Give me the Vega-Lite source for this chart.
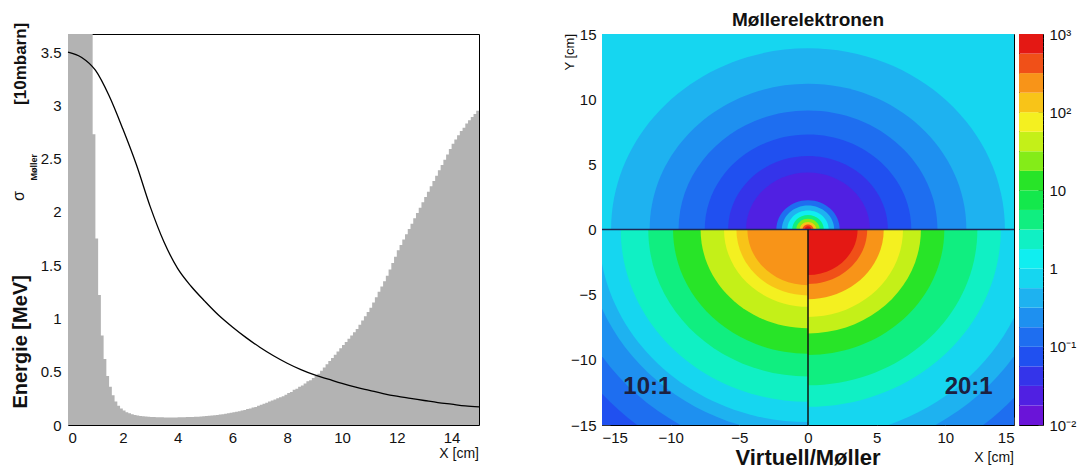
{
  "$schema": "https://vega.github.io/schema/vega-lite/v6.json",
  "background": "white",
  "padding": {"left": 10, "top": 10, "right": 2, "bottom": 2},
  "config": {
    "view": {"stroke": "black", "strokeWidth": 1},
    "font": "Liberation Sans",
    "axis": {"labelFont": "Liberation Sans", "labelFontSize": 15, "labelColor": "#111", "grid": false, "domain": false, "ticks": false, "title": null}
  },
  "datasets": {
    "hist": [
      {"x":0.0,"e":4},{"x":0.1,"e":4},{"x":0.2,"e":4},{"x":0.3,"e":4},{"x":0.4,"e":4},{"x":0.5,"e":4},{"x":0.6,"e":4},{"x":0.7,"e":4},{"x":0.8,"e":4},
      {"x":0.9,"e":2.73},{"x":1.0,"e":1.75},{"x":1.1,"e":1.22},{"x":1.2,"e":0.84},{"x":1.3,"e":0.62},{"x":1.4,"e":0.46},{"x":1.5,"e":0.36},{"x":1.6,"e":0.28},{"x":1.7,"e":0.22},{"x":1.8,"e":0.18},{"x":1.9,"e":0.155},
      {"x":2.0,"e":0.135},{"x":2.1,"e":0.12},{"x":2.2,"e":0.11},{"x":2.3,"e":0.1},{"x":2.4,"e":0.095},{"x":2.5,"e":0.09},{"x":2.6,"e":0.085},{"x":2.7,"e":0.082},{"x":2.8,"e":0.079},{"x":2.9,"e":0.077},
      {"x":3.0,"e":0.075},{"x":3.1,"e":0.074},{"x":3.2,"e":0.073},{"x":3.3,"e":0.072},{"x":3.4,"e":0.072},{"x":3.5,"e":0.071},{"x":3.6,"e":0.071},{"x":3.7,"e":0.071},{"x":3.8,"e":0.071},{"x":3.9,"e":0.071},
      {"x":4.0,"e":0.072},{"x":4.1,"e":0.072},{"x":4.2,"e":0.073},{"x":4.3,"e":0.074},{"x":4.4,"e":0.075},{"x":4.5,"e":0.076},{"x":4.6,"e":0.077},{"x":4.7,"e":0.078},{"x":4.8,"e":0.08},{"x":4.9,"e":0.082},
      {"x":5.0,"e":0.084},{"x":5.1,"e":0.086},{"x":5.2,"e":0.089},{"x":5.3,"e":0.092},{"x":5.4,"e":0.095},{"x":5.5,"e":0.098},{"x":5.6,"e":0.102},{"x":5.7,"e":0.106},{"x":5.8,"e":0.11},{"x":5.9,"e":0.115},
      {"x":6.0,"e":0.12},{"x":6.1,"e":0.125},{"x":6.2,"e":0.13},{"x":6.3,"e":0.135},{"x":6.4,"e":0.14},{"x":6.5,"e":0.15},{"x":6.6,"e":0.155},{"x":6.7,"e":0.165},{"x":6.8,"e":0.17},{"x":6.9,"e":0.18},
      {"x":7.0,"e":0.19},{"x":7.1,"e":0.2},{"x":7.2,"e":0.21},{"x":7.3,"e":0.22},{"x":7.4,"e":0.23},{"x":7.5,"e":0.24},{"x":7.6,"e":0.25},{"x":7.7,"e":0.26},{"x":7.8,"e":0.27},{"x":7.9,"e":0.285},
      {"x":8.0,"e":0.3},{"x":8.1,"e":0.31},{"x":8.2,"e":0.33},{"x":8.3,"e":0.34},{"x":8.4,"e":0.36},{"x":8.5,"e":0.37},{"x":8.6,"e":0.39},{"x":8.7,"e":0.41},{"x":8.8,"e":0.42},{"x":8.9,"e":0.44},
      {"x":9.0,"e":0.46},{"x":9.1,"e":0.48},{"x":9.2,"e":0.51},{"x":9.3,"e":0.54},{"x":9.4,"e":0.57},{"x":9.5,"e":0.6},{"x":9.6,"e":0.63},{"x":9.7,"e":0.66},{"x":9.8,"e":0.69},{"x":9.9,"e":0.72},
      {"x":10.0,"e":0.75},{"x":10.1,"e":0.78},{"x":10.2,"e":0.81},{"x":10.3,"e":0.84},{"x":10.4,"e":0.87},{"x":10.5,"e":0.9},{"x":10.6,"e":0.94},{"x":10.7,"e":0.98},{"x":10.8,"e":1.02},{"x":10.9,"e":1.06},
      {"x":11.0,"e":1.1},{"x":11.1,"e":1.15},{"x":11.2,"e":1.2},{"x":11.3,"e":1.25},{"x":11.4,"e":1.3},{"x":11.5,"e":1.35},{"x":11.6,"e":1.4},{"x":11.7,"e":1.46},{"x":11.8,"e":1.52},{"x":11.9,"e":1.58},
      {"x":12.0,"e":1.64},{"x":12.1,"e":1.69},{"x":12.2,"e":1.74},{"x":12.3,"e":1.79},{"x":12.4,"e":1.84},{"x":12.5,"e":1.89},{"x":12.6,"e":1.94},{"x":12.7,"e":1.99},{"x":12.8,"e":2.04},{"x":12.9,"e":2.09},
      {"x":13.0,"e":2.14},{"x":13.1,"e":2.19},{"x":13.2,"e":2.24},{"x":13.3,"e":2.29},{"x":13.4,"e":2.34},{"x":13.5,"e":2.39},{"x":13.6,"e":2.44},{"x":13.7,"e":2.49},{"x":13.8,"e":2.54},{"x":13.9,"e":2.59},
      {"x":14.0,"e":2.64},{"x":14.1,"e":2.68},{"x":14.2,"e":2.72},{"x":14.3,"e":2.76},{"x":14.4,"e":2.79},{"x":14.5,"e":2.83},{"x":14.6,"e":2.86},{"x":14.7,"e":2.89},{"x":14.8,"e":2.92},{"x":14.9,"e":2.95},{"x":15.0,"e":2.95}
    ],
    "curve": [
      {"x":0,"s":3.5},{"x":0.5,"s":3.45},{"x":1,"s":3.33},{"x":1.5,"s":3.09},{"x":2,"s":2.78},{"x":2.5,"s":2.44},{"x":3,"s":2.05},{"x":3.5,"s":1.72},{"x":4,"s":1.47},{"x":4.5,"s":1.3},{"x":5,"s":1.16},{"x":5.5,"s":1.03},{"x":6,"s":0.92},{"x":6.5,"s":0.82},{"x":7,"s":0.73},{"x":7.5,"s":0.65},{"x":8,"s":0.58},{"x":8.5,"s":0.52},{"x":9,"s":0.47},{"x":9.5,"s":0.43},{"x":10,"s":0.39},{"x":10.5,"s":0.355},{"x":11,"s":0.325},{"x":11.5,"s":0.295},{"x":12,"s":0.27},{"x":12.5,"s":0.25},{"x":13,"s":0.23},{"x":13.5,"s":0.21},{"x":14,"s":0.195},{"x":14.5,"s":0.18},{"x":15,"s":0.17}
    ],
    "rings": [
      {"part":"U","r":24,"v":0.75},{"part":"U","r":14.3,"v":0.422},{"part":"U","r":11.5,"v":0.237},{"part":"U","r":9.4,"v":0.133},{"part":"U","r":7.5,"v":0.075},{"part":"U","r":5.8,"v":0.0422},{"part":"U","r":4.5,"v":0.0237},{"part":"U","r":2.3,"v":0.133},{"part":"U","r":1.9,"v":0.422},{"part":"U","r":1.5,"v":1.33},{"part":"U","r":1.15,"v":4.22},{"part":"U","r":0.85,"v":23.7},{"part":"U","r":0.6,"v":133},{"part":"U","r":0.4,"v":422},{"part":"U","r":0.25,"v":750},
      {"part":"L","r":24,"v":0.075},{"part":"L","r":19.8,"v":0.133},{"part":"L","r":18,"v":0.237},{"part":"L","r":16.2,"v":0.422},{"part":"L","r":15.2,"v":0.75},{"part":"L","r":13.6,"v":2.37},{"part":"L","r":11.6,"v":4.22},{"part":"L","r":9.8,"v":13.3},{"part":"L","r":7.8,"v":42.2},{"part":"L","r":6.1,"v":75},{"part":"L","r":5.2,"v":133},{"part":"L","r":4.4,"v":237},
      {"part":"R","r":24,"v":0.133},{"part":"R","r":20,"v":0.237},{"part":"R","r":18,"v":0.422},{"part":"R","r":16.5,"v":0.75},{"part":"R","r":14,"v":2.37},{"part":"R","r":12.3,"v":4.22},{"part":"R","r":9.9,"v":13.3},{"part":"R","r":8.2,"v":42.2},{"part":"R","r":6.9,"v":75},{"part":"R","r":5.5,"v":237},{"part":"R","r":4.3,"v":422},{"part":"R","r":3.6,"v":750}
    ],
    "bands": [
      {"lo":0.01,"hi":0.01778,"v":0.0133},{"lo":0.01778,"hi":0.03162,"v":0.0237},{"lo":0.03162,"hi":0.05623,"v":0.0422},{"lo":0.05623,"hi":0.1,"v":0.075},
      {"lo":0.1,"hi":0.1778,"v":0.133},{"lo":0.1778,"hi":0.3162,"v":0.237},{"lo":0.3162,"hi":0.5623,"v":0.422},{"lo":0.5623,"hi":1,"v":0.75},
      {"lo":1,"hi":1.778,"v":1.33},{"lo":1.778,"hi":3.162,"v":2.37},{"lo":3.162,"hi":5.623,"v":4.22},{"lo":5.623,"hi":10,"v":7.5},
      {"lo":10,"hi":17.78,"v":13.3},{"lo":17.78,"hi":31.62,"v":23.7},{"lo":31.62,"hi":56.23,"v":42.2},{"lo":56.23,"hi":100,"v":75},
      {"lo":100,"hi":177.8,"v":133},{"lo":177.8,"hi":316.2,"v":237},{"lo":316.2,"hi":562.3,"v":422},{"lo":562.3,"hi":1000,"v":750}
    ]
  },
  "bounds": "flush",
  "spacing": 123,
  "hconcat": [
    {
      "width": 411,
      "height": 391,
      "layer": [
        {
          "data": {"name": "hist"},
          "mark": {"type": "area", "interpolate": "step-after", "color": "#b3b3b3", "clip": true},
          "encoding": {
            "x": {"field": "x", "type": "quantitative", "scale": {"domain": [0, 15], "nice": false, "zero": false},
                  "axis": {"values": [0,2,4,6,8,10,12,14], "labelExpr": "format(datum.value, '~g')", "labelPadding": 5}},
            "y": {"field": "e", "type": "quantitative", "scale": {"domain": [0, 3.67], "nice": false},
                  "axis": {"values": [0,0.5,1,1.5,2,2.5,3,3.5], "labelExpr": "format(datum.value, '~g')", "labelPadding": 7}}
          }
        },
        {
          "data": {"name": "curve"},
          "mark": {"type": "line", "color": "black", "strokeWidth": 1.3, "interpolate": "monotone"},
          "encoding": {
            "x": {"field": "x", "type": "quantitative"},
            "y": {"field": "s", "type": "quantitative"}
          }
        },
        {
          "data": {"values": [{}]},
          "mark": {"type": "text", "angle": 270, "fontSize": 20, "fontWeight": "bold", "color": "#111"},
          "encoding": {"x": {"datum": -1.72, "type": "quantitative"}, "y": {"datum": 0.78, "type": "quantitative"}, "text": {"value": "Energie [MeV]"}}
        },
        {
          "data": {"values": [{}]},
          "mark": {"type": "text", "angle": 270, "fontSize": 17, "fontWeight": "bold", "color": "#111"},
          "encoding": {"x": {"datum": -1.72, "type": "quantitative"}, "y": {"datum": 3.39, "type": "quantitative"}, "text": {"value": "[10mbarn]"}}
        },
        {
          "data": {"values": [{}]},
          "mark": {"type": "text", "angle": 270, "fontSize": 16, "color": "#111"},
          "encoding": {"x": {"datum": -1.8, "type": "quantitative"}, "y": {"datum": 2.15, "type": "quantitative"}, "text": {"value": "σ"}}
        },
        {
          "data": {"values": [{}]},
          "mark": {"type": "text", "angle": 270, "fontSize": 9, "fontWeight": "bold", "color": "#111"},
          "encoding": {"x": {"datum": -1.25, "type": "quantitative"}, "y": {"datum": 2.42, "type": "quantitative"}, "text": {"value": "Møller"}}
        },
        {
          "data": {"values": [{}]},
          "mark": {"type": "text", "fontSize": 14, "color": "#111", "align": "right"},
          "encoding": {"x": {"datum": 15, "type": "quantitative"}, "y": {"datum": -0.27, "type": "quantitative"}, "text": {"value": "X [cm]"}}
        }
      ]
    },
    {
      "bounds": "flush",
      "spacing": 5,
      "hconcat": [
        {
          "width": 412,
          "height": 391,
          "layer": [
            {
              "data": {"name": "rings"},
              "transform": [{"filter": "datum.part == 'U'"}],
              "mark": {"type": "point", "shape": "M-1,0A1,0.92,0,0,1,1,0Z", "filled": true, "opacity": 1, "strokeWidth": 0, "clip": true},
              "encoding": {
                "x": {"datum": 0, "type": "quantitative", "scale": {"domain": [-15, 15], "nice": false, "zero": false},
                      "axis": {"values": [-15,-10,-5,0,5,10,15], "labelPadding": 13, "ticks": true, "tickSize": -8, "tickColor": "#333"}},
                "y": {"datum": 0, "type": "quantitative", "scale": {"domain": [-15, 15], "nice": false, "zero": false},
                      "axis": {"values": [-15,-10,-5,0,5,10,15], "labelPadding": 14, "ticks": true, "tickSize": -8, "tickColor": "#333"}},
                "size": {"field": "r", "type": "quantitative", "legend": null, "scale": {"type": "pow", "exponent": 2, "domain": [0, 15], "range": [0, 170652], "zero": true}},
                "color": {"field": "v", "type": "quantitative", "legend": null,
                  "scale": {"type": "threshold", "domain": [0.01778,0.03162,0.05623,0.1,0.1778,0.3162,0.5623,1,1.778,3.162,5.623,10,17.78,31.62,56.23,100,177.8,316.2,562.3],
                    "range": ["#6a14d8","#5020e2","#3434ea","#2050f0","#1e6ef0","#1e90f0","#1eb2f0","#16d6f0","#10eef0","#10f0c4","#10ee80","#14e84c","#28e428","#84ec18","#c4f018","#f4f020","#f8c418","#f89418","#f05018","#e41814"]}}
              }
            },
            {
              "data": {"name": "rings"},
              "transform": [{"filter": "datum.part == 'R'"}],
              "mark": {"type": "point", "shape": "M0,0L1,0A1,0.92,0,0,1,0,0.92Z", "filled": true, "opacity": 1, "strokeWidth": 0, "clip": true},
              "encoding": {
                "x": {"datum": 0, "type": "quantitative"},
                "y": {"datum": 0, "type": "quantitative"},
                "size": {"field": "r", "type": "quantitative", "legend": null, "scale": {"type": "pow", "exponent": 2, "domain": [0, 15], "range": [0, 170652], "zero": true}},
                "color": {"field": "v", "type": "quantitative", "legend": null,
                  "scale": {"type": "threshold", "domain": [0.01778,0.03162,0.05623,0.1,0.1778,0.3162,0.5623,1,1.778,3.162,5.623,10,17.78,31.62,56.23,100,177.8,316.2,562.3],
                    "range": ["#6a14d8","#5020e2","#3434ea","#2050f0","#1e6ef0","#1e90f0","#1eb2f0","#16d6f0","#10eef0","#10f0c4","#10ee80","#14e84c","#28e428","#84ec18","#c4f018","#f4f020","#f8c418","#f89418","#f05018","#e41814"]}}
              }
            },
            {
              "data": {"name": "rings"},
              "transform": [{"filter": "datum.part == 'L'"}],
              "mark": {"type": "point", "shape": "M0,0L0,0.92A1,0.92,0,0,1,-1,0Z", "filled": true, "opacity": 1, "strokeWidth": 0, "clip": true},
              "encoding": {
                "x": {"datum": 0, "type": "quantitative"},
                "y": {"datum": 0, "type": "quantitative"},
                "size": {"field": "r", "type": "quantitative", "legend": null, "scale": {"type": "pow", "exponent": 2, "domain": [0, 15], "range": [0, 170652], "zero": true}},
                "color": {"field": "v", "type": "quantitative", "legend": null,
                  "scale": {"type": "threshold", "domain": [0.01778,0.03162,0.05623,0.1,0.1778,0.3162,0.5623,1,1.778,3.162,5.623,10,17.78,31.62,56.23,100,177.8,316.2,562.3],
                    "range": ["#6a14d8","#5020e2","#3434ea","#2050f0","#1e6ef0","#1e90f0","#1eb2f0","#16d6f0","#10eef0","#10f0c4","#10ee80","#14e84c","#28e428","#84ec18","#c4f018","#f4f020","#f8c418","#f89418","#f05018","#e41814"]}}
              }
            },
            {
              "data": {"values": [{}]},
              "mark": {"type": "rule", "color": "#1c2a55", "strokeWidth": 1.3},
              "encoding": {"y": {"datum": 0, "type": "quantitative"}}
            },
            {
              "data": {"values": [{}]},
              "mark": {"type": "rule", "color": "#111", "strokeWidth": 1.5},
              "encoding": {"x": {"datum": 0, "type": "quantitative"}, "y": {"datum": 0, "type": "quantitative"}, "y2": {"datum": -15}}
            },
            {
              "data": {"values": [{}]},
              "mark": {"type": "text", "fontSize": 24, "fontWeight": "bold", "color": "#1c2040"},
              "encoding": {"x": {"datum": -11.7, "type": "quantitative"}, "y": {"datum": -12.1, "type": "quantitative"}, "text": {"value": "10:1"}}
            },
            {
              "data": {"values": [{}]},
              "mark": {"type": "text", "fontSize": 24, "fontWeight": "bold", "color": "#1c2040"},
              "encoding": {"x": {"datum": 11.7, "type": "quantitative"}, "y": {"datum": -12.1, "type": "quantitative"}, "text": {"value": "20:1"}}
            },
            {
              "data": {"values": [{}]},
              "mark": {"type": "text", "fontSize": 19, "fontWeight": "bold", "color": "#111"},
              "encoding": {"x": {"datum": 0, "type": "quantitative"}, "y": {"datum": 16.1, "type": "quantitative"}, "text": {"value": "Møllerelektronen"}}
            },
            {
              "data": {"values": [{}]},
              "mark": {"type": "text", "fontSize": 22, "fontWeight": "bold", "color": "#111"},
              "encoding": {"x": {"datum": 0, "type": "quantitative"}, "y": {"datum": -17.5, "type": "quantitative"}, "text": {"value": "Virtuell/Møller"}}
            },
            {
              "data": {"values": [{}]},
              "mark": {"type": "text", "fontSize": 14, "color": "#111", "align": "right"},
              "encoding": {"x": {"datum": 15, "type": "quantitative"}, "y": {"datum": -17.5, "type": "quantitative"}, "text": {"value": "X [cm]"}}
            },
            {
              "data": {"values": [{}]},
              "mark": {"type": "text", "fontSize": 13, "color": "#111", "angle": 270, "align": "right"},
              "encoding": {"x": {"datum": -17.3, "type": "quantitative"}, "y": {"datum": 15, "type": "quantitative"}, "text": {"value": "Y [cm]"}}
            }
          ]
        },
        {
          "width": 24,
          "height": 391,
          "data": {"name": "bands"},
          "mark": {"type": "rect"},
          "encoding": {
            "y": {"field": "lo", "type": "quantitative", "scale": {"type": "log", "domain": [0.01, 1000], "nice": false},
                  "axis": {"orient": "right", "labelPadding": 11, "ticks": true, "tickSize": -5, "tickColor": "#333", "labelOverlap": false,
                           "values": [0.01,0.02,0.03,0.04,0.05,0.06,0.07,0.08,0.09,0.1,0.2,0.3,0.4,0.5,0.6,0.7,0.8,0.9,1,2,3,4,5,6,7,8,9,10,20,30,40,50,60,70,80,90,100,200,300,400,500,600,700,800,900,1000],
                           "labelExpr": "datum.value == 1000 ? '10³' : datum.value == 100 ? '10²' : datum.value == 10 ? '10' : datum.value == 1 ? '1' : datum.value == 0.1 ? '10⁻¹' : datum.value == 0.01 ? '10⁻²' : ''"}},
            "y2": {"field": "hi"},
            "color": {"field": "v", "type": "quantitative", "legend": null,
              "scale": {"type": "threshold", "domain": [0.01778,0.03162,0.05623,0.1,0.1778,0.3162,0.5623,1,1.778,3.162,5.623,10,17.78,31.62,56.23,100,177.8,316.2,562.3],
                "range": ["#6a14d8","#5020e2","#3434ea","#2050f0","#1e6ef0","#1e90f0","#1eb2f0","#16d6f0","#10eef0","#10f0c4","#10ee80","#14e84c","#28e428","#84ec18","#c4f018","#f4f020","#f8c418","#f89418","#f05018","#e41814"]}}
          }
        }
      ]
    }
  ]
}
